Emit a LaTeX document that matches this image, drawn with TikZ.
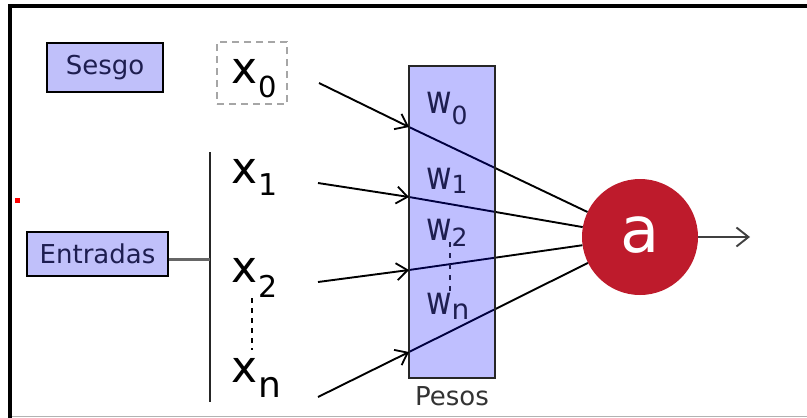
\documentclass[tikz,border=0pt]{standalone}
\usepackage{fontspec}
\setmainfont{DejaVu Sans}
\usetikzlibrary{arrows.meta}
\definecolor{navy}{RGB}{30,30,80}
\definecolor{crimson}{RGB}{190,27,44}
\definecolor{lav}{RGB}{192,192,250}
\begin{document}
\begin{tikzpicture}[x=1pt,y=-1pt,
  labelbox/.style={draw=black, line width=1.8pt, fill=lav, text=navy, inner sep=0pt, font=\fontsize{26}{30}\selectfont},
  xlabel/.style={anchor=base west, inner sep=0pt},
  wlabel/.style={anchor=base west, inner sep=0pt, text=navy},
  inarrow/.style={line width=1.9pt, -{Straight Barb[length=11pt,width=17pt,line width=1.8pt]}},
  inline/.style={line width=1.9pt},
]
\useasboundingbox (0,0) rectangle (807,418);
\fill[white] (0,0) rectangle (807,418);
% frame
\draw[black, line width=4pt] (10,418) -- (10,6) -- (807,6);
\draw[gray!60, line width=1.5pt] (12,416.5) -- (807,416.5);
\fill[red] (15,198) rectangle (20,203);

% label boxes
\node[labelbox, minimum width=116pt, minimum height=49pt] (sesgo) at (105,67.5) {Sesgo};
\node[labelbox, minimum width=141pt, minimum height=44pt] (entradas) at (97.5,254) {Entradas};

% input bracket
\coordinate (bartop) at (210,152);
\coordinate (barbot) at (210,402);
\coordinate (barmid) at (210,259);
\draw[black!85, line width=2.2pt] (bartop) -- (barbot);
\draw[gray!80!black, line width=3pt] (entradas.east |- barmid) -- (barmid);

% x labels
\node[draw=gray!70, dashed, dash pattern=on 7pt off 5pt, line width=1.6pt, minimum width=70pt, minimum height=62pt] (x0box) at (252,73) {};
\node[xlabel] (x0) at (231,83) {\fontsize{44}{44}\selectfont x\hspace{1pt}\raisebox{-14pt}{\fontsize{29}{29}\selectfont 0}};
\node[xlabel] (x1) at (231,183) {\fontsize{44}{44}\selectfont x\hspace{1pt}\raisebox{-12pt}{\fontsize{30}{30}\selectfont 1}};
\node[xlabel] (x2) at (231,282) {\fontsize{44}{44}\selectfont x\hspace{1pt}\raisebox{-15pt}{\fontsize{30}{30}\selectfont 2}};
\node[xlabel] (xn) at (231,382) {\fontsize{44}{44}\selectfont x\hspace{1pt}\raisebox{-15pt}{\fontsize{36}{36}\selectfont n}};
\coordinate (xd1) at (252,298);
\coordinate (xd2) at (252,350);
\draw[black, line width=1.8pt, dash pattern=on 5pt off 5pt] (xd1) -- (xd2);

% activation node
\node[circle, fill=crimson, minimum size=116pt, inner sep=0pt, text=white, font=\fontsize{64}{64}\selectfont] (a) at (640,237) {\raisebox{4pt}{a}};

% inputs
\coordinate (s0) at (319,83);
\coordinate (t0) at (409,127);
\coordinate (s1) at (318,183);
\coordinate (t1) at (409,197);
\coordinate (s2) at (318,282);
\coordinate (t2) at (409,270);
\coordinate (sn) at (318,397);
\coordinate (tn) at (409,352);
\foreach \i in {0,1,2,n}{
  \draw[inline] (t\i) -- (a);
}

% weights box (translucent over lines)
\node[draw=black!85, line width=1.8pt, fill=blue, fill opacity=0.25, draw opacity=1, minimum width=86pt, minimum height=312pt, inner sep=0pt] (pesos) at (452,222) {};
\foreach \i in {0,1,2,n}{
  \draw[inarrow] (s\i) -- (t\i);
}
\node[anchor=base, inner sep=0pt, text=black!80, font=\fontsize{26}{30}\selectfont] (pesoslbl) at (452,405) {Pesos};

\node[wlabel] (w0) at (426,113) {\scalebox{0.8}[1]{\fontsize{39}{39}\selectfont w}\raisebox{-11pt}{\fontsize{25}{25}\selectfont 0}};
\node[wlabel] (w1) at (426,189) {\scalebox{0.8}[1]{\fontsize{39}{39}\selectfont w}\raisebox{-4pt}{\fontsize{25}{25}\selectfont 1}};
\node[wlabel] (w2) at (426,240) {\scalebox{0.8}[1]{\fontsize{39}{39}\selectfont w}\raisebox{-6pt}{\fontsize{25}{25}\selectfont 2}};
\node[wlabel] (wn) at (426,314) {\scalebox{0.8}[1]{\fontsize{39}{39}\selectfont w}\raisebox{-5pt}{\fontsize{28}{28}\selectfont n}};
\coordinate (wd1) at (450,242);
\coordinate (wd2) at (450,292);
\draw[navy, line width=1.8pt, dash pattern=on 5pt off 6pt] (wd1) -- (wd2);

% output
\coordinate (out) at (750,237);
\draw[black!75, line width=2.2pt, -{Straight Barb[length=12pt,width=19pt,line width=1.9pt]}] (a.east) -- (out);
\end{tikzpicture}
\end{document}
